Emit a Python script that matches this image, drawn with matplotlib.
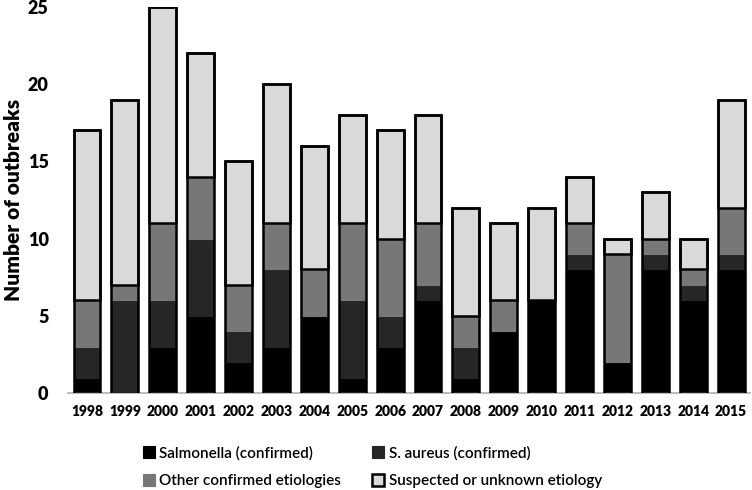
import matplotlib.pyplot as plt
import numpy as np

years = [str(y) for y in range(1998, 2016)]
salmonella = [1, 0, 3, 5, 2, 3, 5, 1, 3, 6, 1, 4, 6, 8, 2, 8, 6, 8]
s_aureus = [2, 6, 3, 5, 2, 5, 0, 5, 2, 1, 2, 0, 0, 1, 0, 1, 1, 1]
other = [3, 1, 5, 4, 3, 3, 3, 5, 5, 4, 2, 2, 0, 2, 7, 1, 1, 3]
suspected = [11, 12, 14, 8, 8, 9, 8, 7, 7, 7, 7, 5, 6, 3, 1, 3, 2, 7]

labels = ["Salmonella (confirmed)", "S. aureus (confirmed)",
          "Other confirmed etiologies", "Suspected or unknown etiology"]
colors = ["#000000", "#262626", "#777777", "#d9d9d9"]

plt.rcParams["font.family"] = ["Lato", "DejaVu Sans"]

fig = plt.figure(figsize=(7.52, 4.90), dpi=100)
ax = fig.add_axes([0.0905, 0.198, 0.907, 0.788])

x = np.arange(len(years))
w = 0.71
series = [salmonella, s_aureus, other, suspected]
bottom = np.zeros(len(years))
handles = []
for vals, col, lab in zip(series, colors, labels):
    vals = np.array(vals)
    h = ax.bar(x, vals, w, bottom=bottom, color=col, label=lab,
               edgecolor="#000000" if col == "#d9d9d9" else col,
               linewidth=1.8 if col == "#d9d9d9" else 0.8)
    handles.append(h)
    bottom += vals

# black outline around each full stack
for xi, t in zip(x, bottom):
    ax.add_patch(plt.Rectangle((xi - w / 2, 0), w, t, fill=False,
                               edgecolor="#000000", linewidth=1.8, zorder=3))

ax.set_xlim(-0.5, 17.5)
ax.set_ylim(0, 25)
ax.set_yticks([0, 5, 10, 15, 20, 25])
ax.set_xticks(x)
ax.set_xticklabels(years, fontsize=10, fontweight="heavy")
for t in ax.get_yticklabels():
    t.set_fontsize(13)
    t.set_fontweight("heavy")
ax.tick_params(axis="both", length=0)
ax.tick_params(axis="x", pad=9)
ax.tick_params(axis="y", pad=14)
for s in ["top", "right", "left"]:
    ax.spines[s].set_visible(False)
ax.spines["bottom"].set_color("#b0b0b0")
ax.spines["bottom"].set_linewidth(1.2)
ax.set_ylabel("Number of outbreaks", fontsize=15, fontweight="heavy", labelpad=3)

order = [0, 2, 1, 3]
fig.legend([handles[i] for i in order], [labels[i] for i in order],
           loc="center", bbox_to_anchor=(0.495, 0.047), ncol=2, frameon=False,
           prop={"size": 11, "weight": "semibold"},
           handlelength=0.8, handleheight=0.8, handletextpad=0.3,
           columnspacing=2.0, labelspacing=0.9)

fig.savefig("out.png", dpi=100)
